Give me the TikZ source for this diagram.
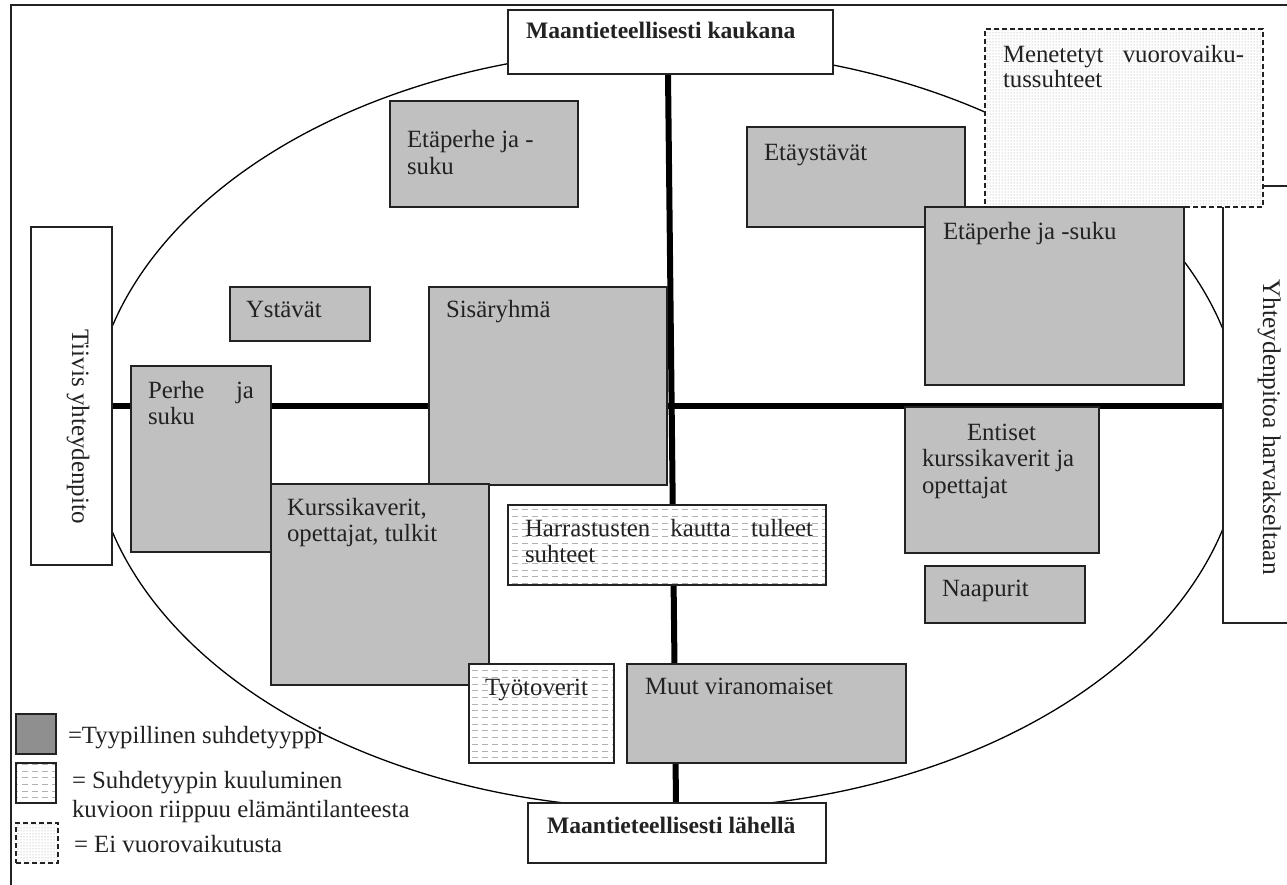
\documentclass[tikz,border=0pt]{standalone}
\usepackage{fontspec}
\setmainfont{Liberation Serif}
\usetikzlibrary{patterns}
\pgfdeclarepatternformonly{hdash}{\pgfqpoint{-0.5pt}{-0.6pt}}{\pgfqpoint{10.5pt}{0.6pt}}{\pgfqpoint{10pt}{6.7pt}}{%
  \pgfsetlinewidth{0.9pt}\pgfpathmoveto{\pgfqpoint{1.5pt}{0pt}}\pgfpathlineto{\pgfqpoint{7.5pt}{0pt}}\pgfusepath{stroke}}
\definecolor{boxgray}{HTML}{C0C0C0}
\definecolor{leggray}{HTML}{8F8F8F}
\definecolor{ink}{HTML}{222222}
\newcommand{\bx}[6]{\node[#2,anchor=north west,minimum width={#5-#3},minimum height={#6-#4}] (#1) at (#3,#4) {};}
\newcommand{\tx}[5]{\node[txt,anchor=base west] (#1) at (#2,#3) {\parbox[t]{#4pt}{\raggedright #5}};}
\begin{document}
\begin{tikzpicture}[x=1pt,y=-1pt,
  base/.style={line width=1.2pt,inner sep=0pt,outer sep=0pt},
  gbox/.style={base,draw=ink,fill=boxgray},
  legfill/.style={base,draw=ink,fill=leggray},
  hbox/.style={base,draw=ink,preaction={fill=white},pattern=hdash,pattern color=gray!60},
  lbox/.style={base,draw=ink,fill=white},
  nbox/.style={base,draw=ink,dash pattern=on 5pt off 3pt,preaction={fill=white},pattern=dots,pattern color=gray!80},
  txt/.style={inner sep=0pt,outer sep=0pt,text=ink,font=\fontsize{24.8}{26.5}\selectfont},
  btxt/.style={inner sep=0pt,outer sep=0pt,text=ink,font=\bfseries\fontsize{23.6}{26}\selectfont},
  axisline/.style={line width=6pt,black},
  frame/.style={line width=1.6pt,ink},
  oval/.style={line width=1.3pt,black}]
\useasboundingbox (0,0) rectangle (1287,885);
\begin{scope}
\clip (0,0) rectangle (1287,885);
% outer frame
\draw[frame] (1300,5) -- (11,5) -- (11,900);
% ellipse
\draw[oval] (667,429) ellipse [x radius=576pt, y radius=380pt];
% axes end points
\coordinate (vtop) at (668,74);
\coordinate (vbot) at (676,803);
\coordinate (hleft) at (112,406);
\coordinate (hright) at (1223,406);
\draw[axisline] (vtop) -- (vbot);
\draw[axisline] (hleft) -- (hright);
% side and top/bottom label boxes
\bx{harva}{lbox}{1223}{186}{1320}{623}
\bx{tiivis}{lbox}{31}{227}{112}{565}
\bx{kaukana}{lbox}{508}{10}{833}{74}
\bx{lahella}{lbox}{528}{803}{826}{863}
% relation boxes
\bx{etaperheL}{gbox}{390}{101}{578}{207}
\bx{etaystavat}{gbox}{747}{127}{965}{227}
\bx{menetetyt}{nbox}{985}{29}{1263}{207}
\bx{etaperheR}{gbox}{925}{207}{1184}{385}
\bx{ystavat}{gbox}{230}{287}{370}{341}
\bx{sisaryhma}{gbox}{429}{287}{667}{485}
\bx{perhe}{gbox}{131}{366}{271}{552}
\bx{kurssi}{gbox}{271}{484}{489}{685}
\bx{entiset}{gbox}{905}{407}{1099}{553}
\bx{naapurit}{gbox}{925}{566}{1085}{623}
\bx{muut}{gbox}{627}{664}{906}{763}
\bx{harrastus}{hbox}{508}{505}{826}{585}
\bx{tyotoverit}{hbox}{469}{664}{614}{763}
% legend boxes
\bx{legA}{legfill}{16}{714}{56}{754}
\bx{legB}{hbox}{16}{763}{56}{803}
\bx{legC}{nbox}{16}{823}{58}{863}
% texts
\node[btxt,anchor=base west] (t-kaukana) at (526,39) {Maantieteellisesti kaukana};
\node[btxt,anchor=base west] (t-lahella) at (547,833) {Maantieteellisesti lähellä};
\node[txt,rotate=-90,anchor=base,font=\fontsize{25}{27}\selectfont] (t-tiivis) at (72,426.5) {Tiivis yhteydenpito};
\node[txt,rotate=-90,anchor=base,font=\fontsize{25.4}{28}\selectfont] (t-harva) at (1263,427) {Yhteydenpitoa harvakseltaan};
\node[txt,anchor=base west,font=\fontsize{24.8}{25}\selectfont] (t-menetetyt) at (1003,63) {\parbox[t]{241pt}{\raggedright Menetetyt\hfill vuorovaiku-\\tussuhteet}};
\tx{t-etaperheL}{407}{148}{160}{Etäperhe ja -\\suku}
\tx{t-etaystavat}{764}{161}{190}{Etäystävät}
\tx{t-etaperheR}{943}{240}{230}{Etäperhe ja -suku}
\tx{t-ystavat}{246}{317}{120}{Ystävät}
\tx{t-sisaryhma}{446}{317}{200}{Sisäryhmä}
\tx{t-perhe}{148}{398}{106}{Perhe\hfill ja\\suku}
\tx{t-entiset}{922}{440}{175}{\hspace*{45pt}Entiset\\kurssikaverit ja\\opettajat}
\tx{t-harrastus}{525}{536}{288}{Harrastusten\hfill kautta\hfill tulleet\\suhteet}
\tx{t-kurssi}{287}{515}{200}{Kurssikaverit,\\opettajat, tulkit}
\tx{t-naapurit}{942}{596}{140}{Naapurit}
\tx{t-tyotoverit}{485}{695}{128}{Työtoverit}
\tx{t-muut}{645}{694}{250}{Muut viranomaiset}
\tx{t-legA}{68}{743}{400}{=Tyypillinen suhdetyyppi}
\node[txt,anchor=base west,font=\fontsize{24.8}{29}\selectfont] (t-legB) at (72,788) {\parbox[t]{400pt}{\raggedright = Suhdetyypin kuuluminen\\kuvioon riippuu elämäntilanteesta}};
\tx{t-legC}{74}{852}{400}{= Ei vuorovaikutusta}
\end{scope}
\end{tikzpicture}
\end{document}
